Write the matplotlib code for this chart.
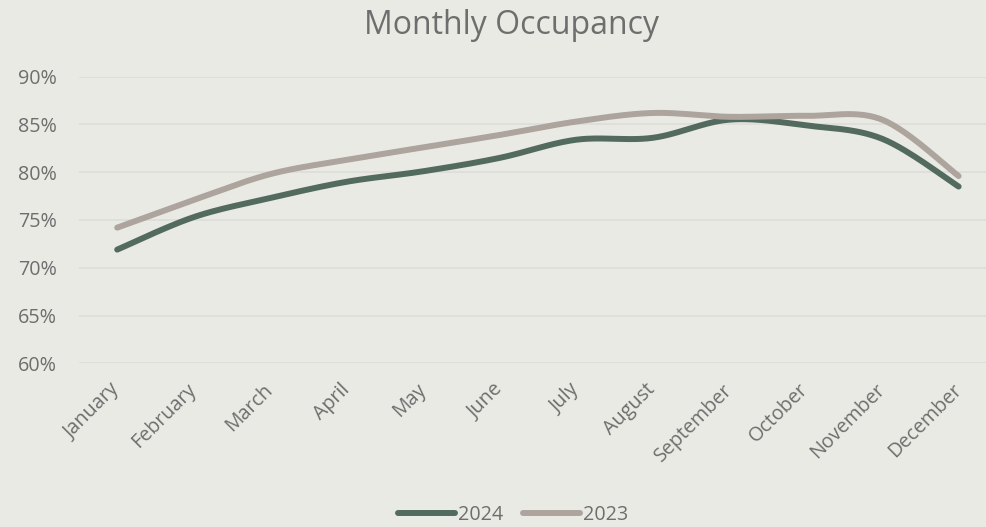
import numpy as np
import matplotlib.pyplot as plt
from matplotlib.ticker import PercentFormatter

# ==========================================================
# Data
# ==========================================================

months = ["January", "February", "March", "April", "May", "June",
          "July", "August", "September", "October", "November", "December"]

occ_2024 = [71.9, 75.3, 77.3, 79.0, 80.1, 81.5, 83.4, 83.6, 85.5, 84.9, 83.5, 78.5]
occ_2023 = [74.2, 77.1, 79.8, 81.3, 82.6, 83.9, 85.3, 86.2, 85.8, 85.9, 85.5, 79.6]

BG = "#EAEAE5"
GREEN = "#536B5E"
TAUPE = "#ADA49D"
TEXT = "#6E6E6E"

plt.rcParams["font.family"] = ["Open Sans", "DejaVu Sans"]

# ==========================================================
# Smooth line (Catmull-Rom style, like spreadsheet smoothing)
# ==========================================================

def smooth(xs, ys, n=30):
    pts = np.column_stack([xs, ys]).astype(float)
    out = []
    for i in range(len(pts) - 1):
        p0 = pts[max(i - 1, 0)]
        p1 = pts[i]
        p2 = pts[i + 1]
        p3 = pts[min(i + 2, len(pts) - 1)]
        c1 = p1 + (p2 - p0) / 6.0
        c2 = p2 - (p3 - p1) / 6.0
        t = np.linspace(0, 1, n)[:, None]
        seg = ((1 - t) ** 3) * p1 + 3 * ((1 - t) ** 2) * t * c1 \
            + 3 * (1 - t) * t ** 2 * c2 + t ** 3 * p2
        out.append(seg if i == 0 else seg[1:])
    seg = np.vstack(out)
    return seg[:, 0], seg[:, 1]

# ==========================================================
# Plot
# ==========================================================

fig = plt.figure(figsize=(9.87, 5.27), dpi=100, facecolor=BG)
ax = fig.add_axes([0.080, 0.3106, 0.930, 0.5439], facecolor=BG)

x = np.arange(len(months))

for vals, color, label in [(occ_2024, GREEN, "2024"), (occ_2023, TAUPE, "2023")]:
    sx, sy = smooth(x, vals)
    ax.plot(sx, sy, color=color, lw=4.3, solid_capstyle="round", label=label)

ax.set_xlim(-0.5, len(months) - 0.5)
ax.set_ylim(60, 90)
ax.set_yticks(np.arange(60, 91, 5))
ax.yaxis.set_major_formatter(PercentFormatter(decimals=0))
ax.grid(axis="y", color="#DCDCD9", lw=1.2)
ax.set_axisbelow(True)

for s in ax.spines.values():
    s.set_visible(False)

ax.set_xticks(x)
ax.set_xticklabels(months, rotation=45, ha="right", va="center",
                   rotation_mode="anchor")
ax.tick_params(axis="both", length=0, colors=TEXT, labelsize=14.2)
ax.tick_params(axis="y", pad=16)
ax.tick_params(axis="x", pad=17)

fig.text(0.518, 0.952, "Monthly Occupancy", ha="center", va="center",
         fontsize=23, color=TEXT)

fig.legend(loc="lower center", bbox_to_anchor=(0.52, -0.03), ncol=2,
           frameon=False, fontsize=14.2, labelcolor=TEXT, handlelength=2.9,
           handletextpad=0.15, columnspacing=1.0)

fig.savefig("out.png", dpi=100, facecolor=BG)
